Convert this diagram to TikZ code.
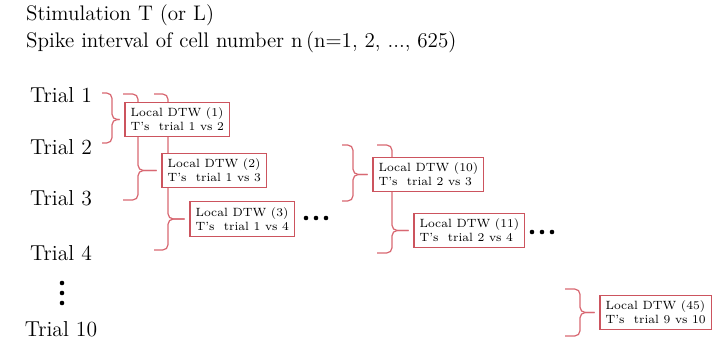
\documentclass[tikz,border=0pt]{standalone}
\usepackage{tikz}
\usetikzlibrary{positioning}

\definecolor{boxred}{RGB}{204,84,94}
\definecolor{bracered}{RGB}{216,104,114}

\begin{document}
\begin{tikzpicture}[x=0.02cm, y=-0.02cm,
  dtw/.style={fill=white, align=left, anchor=west,
    inner xsep=3pt, inner ysep=3.1pt, font=\fontsize{6.8}{7.9}\selectfont},
  boxline/.style={draw=boxred, line width=0.7pt},
  trial/.style={font=\fontsize{12.3}{14}\selectfont},
  bracepen/.style={draw=bracered, line width=0.7pt, rounded corners=3pt}]
\useasboundingbox (0,0) rectangle (713,338);

% Heading
\node[anchor=west, font=\fontsize{12}{14}\selectfont] (stim) at (20,15) {Stimulation T (or L)};
\node[anchor=west, font=\fontsize{12}{14}\selectfont] (cell) at (20,42) {Spike interval of cell number n\,(n=1, 2, ..., 625)};

% Trials
\foreach \n/\y in {1/95, 2/147, 3/198, 4/253, 10/329} {
   \node[trial] (t\n) at (61,\y) {Trial \n};
}
\foreach \y in {283, 293, 303} {
   \fill (62,\y) circle[radius=1.3pt];
}

% left edges of the Local DTW boxes
\coordinate (w1) at (125,119.5);
\coordinate (w2) at (162,170.5);
\coordinate (w3) at (190,219);
\coordinate (w10) at (373,174.5);
\coordinate (w11) at (414,230.5);
\coordinate (w45) at (600,312.5);

% Braces (arm x / spine x / top y / bottom y / box edge)
\foreach \ax/\sx/\ty/\by/\w in {102/112/93/143/w1, 123/138/94/200/w2, 154/168/94/250/w3,
   342/353/145/201/w10, 377/392/145/253/w11, 565/580/289/336/w45} {
   \draw[bracepen] (\ax,\ty) -- (\sx,\ty) -- (\sx,\ty |- \w) -- ([xshift=-3pt]\w);
   \draw[bracepen] (\ax,\by) -- (\sx,\by) -- (\sx,\by |- \w) -- ([xshift=-3pt]\w);
}

% Local DTW boxes
\node[dtw] (d1) at (w1) {Local DTW (1)\\T's\ \ trial 1 vs 2};
\node[dtw] (d2) at (w2) {Local DTW (2)\\T's\ \ trial 1 vs 3};
\node[dtw] (d3) at (w3) {Local DTW (3)\\T's\ \ trial 1 vs 4};
\node[dtw] (d10) at (w10) {Local DTW (10)\\T's\ \ trial 2 vs 3};
\node[dtw] (d11) at (w11) {Local DTW (11)\\T's\ \ trial 2 vs 4};
\node[dtw] (d45) at (w45) {Local DTW (45)\\T's\ \ trial 9 vs 10};
\foreach \d in {d1, d2, d3, d10, d11, d45} {
   \draw[boxline] (\d.south west) rectangle (\d.north east);
}

% dots after a row
\foreach \x in {306, 316, 326} {
   \fill (\x,218) circle[radius=1.3pt];
}
\foreach \x in {532, 542, 552} {
   \fill (\x,232) circle[radius=1.3pt];
}
\end{tikzpicture}
\end{document}
